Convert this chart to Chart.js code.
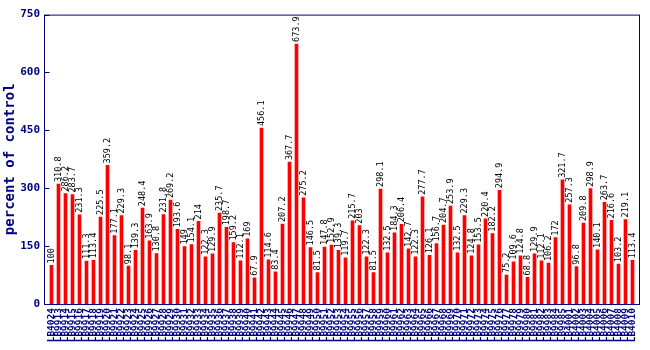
<!DOCTYPE html>
<html>
<head>
<meta charset="utf-8">
<script src="https://cdn.jsdelivr.net/npm/chart.js@4"></script>
<style>
   html, body { margin: 0; padding: 0; background: #fff; }
   canvas { display: block; }
</style>
</head>
<body>
<canvas id="chart" width="650" height="350"></canvas>
<script>
const labels = ['LB4024'];
for (let n = 13; n <= 85; n++) labels.push('LB99' + n);
for (let n = 1; n <= 10; n++) labels.push('LB40' + String(n).padStart(2, '0'));

const values = [
   100, 310.8, 286.2, 283.7, 231.3, 111.3, 113.4, 225.5, 359.2, 177.1,
   229.3, 98.1, 139.3, 248.4, 163.9, 130.8, 231.8, 269.2, 193.6, 149,
   154.1, 214, 122.3, 129.9, 235.7, 198.7, 159.2, 112.1, 169, 67.9,
   456.1, 114.6, 83.4, 207.2, 367.7, 673.9, 275.2, 146.5, 81.5, 147.8,
   152.9, 139.3, 119.7, 215.7, 203, 122.3, 81.5, 298.1, 132.5, 184.3,
   206.4, 142.7, 122.3, 277.7, 126.1, 156.7, 204.7, 253.9, 132.5, 229.3,
   124.8, 153.5, 220.4, 182.2, 294.9, 75.2, 109.6, 124.8, 68.8, 129.9,
   112.1, 106.2, 172, 321.7, 257.3, 96.8, 209.8, 298.9, 140.1, 263.7,
   216.6, 103.2, 219.1, 113.4
];

const yMin = 0;
const yMax = 750;
const yStep = 150;

const navy = '#000080';
const mono = '"DejaVu Sans Mono", monospace';

// frame round the plot and short inward ticks on the y axis
const framePlugin = {
   id: 'frame',
   afterDraw(chart) {
      const ctx = chart.ctx;
      const a = chart.chartArea;
      const y = chart.scales.y;
      const left = a.left - 3.5;
      const right = a.right + 3.5;
      ctx.save();
      ctx.strokeStyle = navy;
      ctx.lineWidth = 1;
      ctx.strokeRect(left, a.top + 0.5, right - left, a.bottom - a.top);
      ctx.beginPath();
      y.ticks.forEach(t => {
         const py = Math.round(y.getPixelForValue(t.value)) + 0.5;
         ctx.moveTo(left, py);
         ctx.lineTo(left + 5, py);
      });
      ctx.stroke();
      ctx.restore();
   }
};

// value written upright above each bar
const valuePlugin = {
   id: 'values',
   afterDatasetsDraw(chart) {
      const ctx = chart.ctx;
      const meta = chart.getDatasetMeta(0);
      ctx.save();
      ctx.font = '8.5px ' + mono;
      ctx.fillStyle = '#000';
      ctx.textAlign = 'left';
      ctx.textBaseline = 'middle';
      meta.data.forEach((bar, i) => {
         ctx.save();
         ctx.translate(bar.x, bar.y - 2);
         ctx.rotate(-Math.PI / 2);
         ctx.fillText(String(values[i]), 0, 0);
         ctx.restore();
      });
      ctx.restore();
   }
};

new Chart(document.getElementById('chart'), {
   type: 'bar',
   data: {
      labels: labels,
      datasets: [{
         data: values,
         backgroundColor: '#ff0000',
         borderWidth: 0,
         barThickness: 3
      }]
   },
   options: {
      responsive: false,
      devicePixelRatio: 1,
      animation: false,
      layout: { padding: { top: 10, right: 14, left: 0, bottom: 0 } },
      plugins: {
         legend: { display: false },
         tooltip: { enabled: false }
      },
      scales: {
         x: {
            grid: { display: false, drawTicks: false },
            border: { display: false },
            ticks: {
               autoSkip: false,
               minRotation: 90,
               maxRotation: 90,
               padding: 4,
               color: navy,
               font: { family: mono, size: 9.5, weight: 'bold' }
            },
            afterFit(scale) { scale.height = 46; }
         },
         y: {
            min: yMin,
            max: yMax,
            grid: { display: false, drawTicks: false },
            border: { display: false },
            ticks: {
               stepSize: yStep,
               padding: 8,
               color: navy,
               font: { family: mono, size: 11, weight: 'bold' }
            },
            title: {
               display: true,
               text: 'percent of control',
               color: navy,
               padding: { top: 2, bottom: 0 },
               font: { family: mono, size: 14, weight: 'bold' }
            },
            afterFit(scale) { scale.width = 48; }
         }
      }
   },
   plugins: [framePlugin, valuePlugin]
});
</script>
</body>
</html>
